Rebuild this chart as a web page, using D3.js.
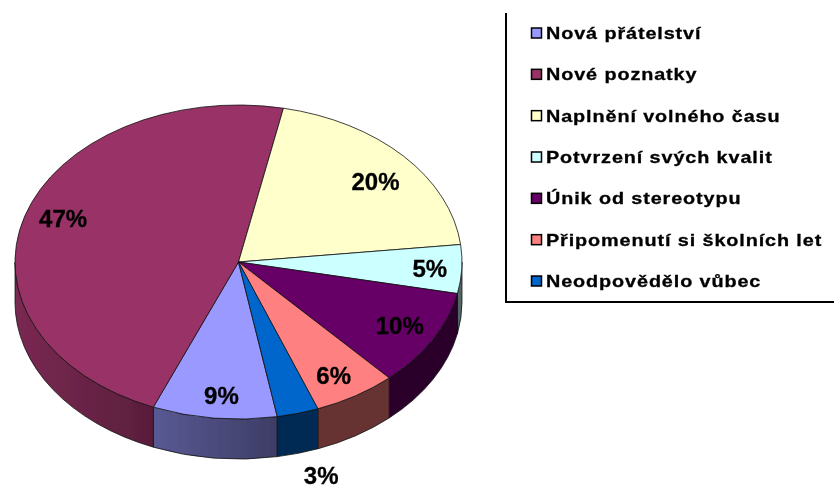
<!DOCTYPE html>
<html>
<head>
<meta charset="utf-8">
<script src="https://cdn.jsdelivr.net/npm/d3@7"></script>
<style>
html, body { margin: 0; padding: 0; background: #fff; }
svg { display: block; }
text { font-family: "Liberation Sans", Arial, sans-serif; font-weight: bold; fill: #000; stroke: #000; stroke-width: 0.3; }
</style>
</head>
<body>
<svg id="chart" width="834" height="488"></svg>
<script>
// Get the data
var categories = ['Nová přátelství', 'Nové poznatky', 'Naplnění volného času', 'Potvrzení svých kvalit', 'Únik od stereotypu', 'Připomenutí si školních let', 'Neodpovědělo vůbec'];
var values = [9, 47, 20, 5, 10, 6, 3];
var colors = ['#9999ff', '#993366', '#ffffcc', '#ccffff', '#660066', '#ff8080', '#0066cc'];

var width = 834,
    height = 488,
    cx = 238.5,
    cy = 262,
    rx = 223.5,
    ry = 157,
    depth = 40,
    startAngle = 170 * Math.PI / 180,
    labelRadius = 0.83,
    outsideRadius = 1.41;

// hand placed corrections for the data labels, same order as the slices
var labelNudge = [[3, 4], [2, -5], [0, 7], [6, 1], [0, -1], [-2, 3], [-1, 0]];

var svg = d3.select('#chart');

// the source image is a scaled up bitmap, so everything is a bit soft
svg.append('filter').attr('id', 'soft')
    .append('feGaussianBlur').attr('stdDeviation', 0.55);

var root = svg.append('g').attr('filter', 'url(#soft)');

var pie = d3.pie()
    .sort(null)
    .startAngle(startAngle)
    .endAngle(startAngle + 2 * Math.PI);

var arcs = pie(values);

var xScale = d3.scaleLinear().domain([-1, 1]).range([cx - rx, cx + rx]),
    yScale = d3.scaleLinear().domain([-1, 1]).range([cy + ry, cy - ry]);

var px = function(a) { return xScale(Math.sin(a)); },
    py = function(a) { return yScale(Math.cos(a)); };

// side wall: only the part of a slice on the front half of the ellipse
var frontMin = Math.PI / 2,
    frontMax = 3 * Math.PI / 2;

var wallPath = function(a0, a1) {
    return 'M' + px(a0) + ',' + py(a0) +
        'A' + rx + ',' + ry + ' 0 0 1 ' + px(a1) + ',' + py(a1) +
        'L' + px(a1) + ',' + (py(a1) + depth) +
        'A' + rx + ',' + ry + ' 0 0 0 ' + px(a0) + ',' + (py(a0) + depth) + 'Z';
};

var walls = [];
arcs.forEach(function(d, i) {
    // the pie wraps past a full turn, try both positions of the front half
    [0, 2 * Math.PI].forEach(function(shift) {
        var a0 = Math.max(d.startAngle, frontMin + shift),
            a1 = Math.min(d.endAngle, frontMax + shift);
        if (a1 > a0) walls.push({ a0: a0, a1: a1, i: i });
    });
});

// light comes from the left: walls get darker towards the middle of the pie
var shade = d3.scaleLinear()
    .domain([cx - rx, cx - 84, cx + 38])
    .range([0.8, 0.58, 0.4])
    .clamp(true);

var shaded = function(color, x) {
    var c = d3.rgb(color), k = shade(x);
    return d3.rgb(c.r * k, c.g * k, c.b * k);
};

var defs = svg.append('defs');

walls.forEach(function(d, n) {
    var x0 = Math.min(px(d.a0), px(d.a1)),
        x1 = Math.max(px(d.a0), px(d.a1));
    var g = defs.append('linearGradient')
        .attr('id', 'side' + n)
        .attr('gradientUnits', 'userSpaceOnUse')
        .attr('x1', x0)
        .attr('x2', x1)
        .attr('y1', 0)
        .attr('y2', 0);
    g.append('stop').attr('offset', 0).attr('stop-color', shaded(colors[d.i], x0));
    g.append('stop').attr('offset', 1).attr('stop-color', shaded(colors[d.i], x1));
});

root.selectAll('.wall')
    .data(walls)
    .enter().append('path')
    .attr('class', 'wall')
    .attr('d', function(d) { return wallPath(d.a0, d.a1); })
    .attr('fill', function(d, n) { return 'url(#side' + n + ')'; })
    .attr('stroke', '#111')
    .attr('stroke-width', 0.8);

// top face, drawn as a circle and squashed into the ellipse
var arc = d3.arc().innerRadius(0).outerRadius(rx);

root.append('g')
    .attr('transform', 'translate(' + cx + ',' + cy + ') scale(1,' + (ry / rx) + ')')
    .selectAll('path')
    .data(arcs)
    .enter().append('path')
    .attr('d', arc)
    .attr('fill', function(d, i) { return colors[i]; })
    .attr('stroke', '#111')
    .attr('stroke-width', 0.8)
    .attr('vector-effect', 'non-scaling-stroke');

// data labels, the smallest slice has its label outside
var labelPos = function(d, i) {
    var a = (d.startAngle + d.endAngle) / 2,
        r = d.value < 4 ? outsideRadius : labelRadius;
    return [cx + rx * r * Math.sin(a) + labelNudge[i][0], cy - ry * r * Math.cos(a) + labelNudge[i][1]];
};

root.selectAll('.label')
    .data(arcs)
    .enter().append('text')
    .attr('class', 'label')
    .attr('x', function(d, i) { return labelPos(d, i)[0]; })
    .attr('y', function(d, i) { return labelPos(d, i)[1]; })
    .attr('dy', '.35em')
    .attr('text-anchor', 'middle')
    .attr('font-size', 24)
    .text(function(d) { return d.value + '%'; });

// legend
var legendX = 506,
    legendTop = 13,
    legendBottom = 302,
    legendY = d3.scalePoint().domain(categories).range([33, 281]);

root.append('path')
    .attr('d', 'M' + legendX + ',' + legendTop + 'V' + legendBottom + 'H' + width)
    .attr('fill', 'none')
    .attr('stroke', '#000')
    .attr('stroke-width', 2);

var item = root.selectAll('.legend')
    .data(categories)
    .enter().append('g')
    .attr('class', 'legend')
    .attr('transform', function(d) { return 'translate(531,' + legendY(d) + ')'; });

item.append('rect')
    .attr('x', 0.5)
    .attr('y', -5)
    .attr('width', 10)
    .attr('height', 10)
    .attr('fill', function(d, i) { return colors[i]; })
    .attr('stroke', '#000')
    .attr('stroke-width', 1.5);

// the source letters are stretched sideways
item.append('text')
    .attr('transform', 'translate(15,0) scale(1.2,1)')
    .attr('dy', '.36em')
    .attr('font-size', 16.5)
    .attr('letter-spacing', 0.75)
    .text(function(d) { return d; });
</script>
</body>
</html>
